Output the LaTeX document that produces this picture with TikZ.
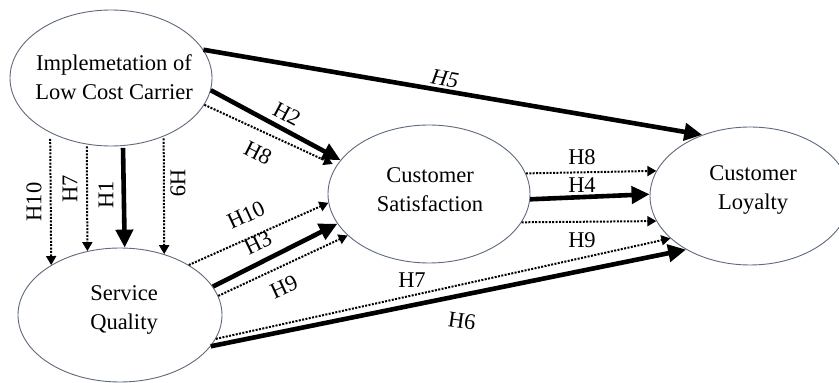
\documentclass[tikz,border=0pt]{standalone}
\usepackage{fontspec}
\setmainfont{Liberation Serif}
\usetikzlibrary{shapes.geometric, arrows.meta}
\definecolor{ellc}{RGB}{95,105,125}
\begin{document}
\begin{tikzpicture}[x=1pt,y=1pt,
  ell/.style={ellipse, draw=ellc, line width=0.9pt, inner sep=0pt},
  txt/.style={font=\fontsize{22.5}{29.5}\selectfont, align=center, inner sep=0pt},
  lab/.style={font=\fontsize{22.5}{25}\selectfont, inner sep=0pt},
  bigarrow/.style={-{Triangle[length=18pt,width=17pt]}, line width=4.6pt},
  dotarrow/.style={-{Triangle[length=9pt,width=10pt]}, line width=2pt, dash pattern=on 2pt off 1.4pt}
]
\fill[white] (0,0) rectangle (839,383);
\useasboundingbox (0,0) rectangle (839,383);

% ellipses
\node[ell, minimum width=202pt, minimum height=136pt] (lcc) at (111,305) {};
\node[ell, minimum width=204pt, minimum height=134pt] (sq) at (120,68) {};
\node[ell, minimum width=202pt, minimum height=138pt] (cs) at (429,189) {};
\node[ell, minimum width=200pt, minimum height=138pt] (cl) at (750,187) {};

% texts
\node[txt] (lccT) at (114,306) {Implemetation of\\Low Cost Carrier};
\node[txt] (sqT) at (124,73) {Service\\Quality};
\node[txt] (csT) at (430,193.5) {Customer\\Satisfaction};
\node[txt] (clT) at (753,193) {Customer\\Loyalty};

% LCC outgoing
\draw[bigarrow] (lcc.17.9) -- (cl.128.5);
\draw[bigarrow] (lcc.353.2) -- (cs.159.6);
\draw[dotarrow, shorten >=4pt] (lcc.344.9) -- (cs.163.7);

% vertical
\draw[dotarrow, shorten <=6pt] (lcc.222.4) -- (sq.144.4);
\draw[dotarrow, shorten <=2pt] (lcc.250.0) -- (sq.117.5);
\draw[bigarrow, shorten <=2pt] (lcc.280.9) -- (sq.86.6);
\draw[dotarrow, shorten <=2pt] (lcc.312.5) -- (sq.54.0);

% SQ to CS
\draw[dotarrow] (sq.36.6) -- (cs.185);
\draw[bigarrow] (sq.17.5) -- (cs.198);
\draw[dotarrow] (sq.11.1) -- (cs.207.6);

% SQ to CL
\draw[dotarrow] (sq.346) -- (cl.208.8);
\draw[bigarrow] (sq.341.7) -- (cl.220.9);

% CS to CL
\draw[dotarrow] (cs.12.5) -- (cl.165.5);
\draw[bigarrow] (cs.357.1) -- (cl.179.4);
\draw[dotarrow] (cs.343.4) -- (cl.195);

% labels
\node[lab, font=\fontsize{22.5}{25}\selectfont\itshape, rotate=-10] (h5) at (445,304) {H5};
\node[lab, rotate=-28] (h2) at (287,269) {H2};
\node[lab, rotate=-27] (h8a) at (258,230) {H8};
\node[lab, rotate=90] (h10v) at (34,181) {H10};
\node[lab, rotate=90] (h7v) at (70,194) {H7};
\node[lab, rotate=90] (h1v) at (106,188) {H1};
\node[lab, rotate=-90] (h9v) at (178,200) {H9};
\node[lab, rotate=25] (h10d) at (246,168) {H10};
\node[lab, rotate=26] (h3d) at (258,140) {H3};
\node[lab, rotate=25] (h9d) at (284,96) {H9};
\node[lab] (h7d) at (412,103) {H7};
\node[lab, rotate=-8] (h6d) at (462,62) {H6};
\node[lab] (h8r) at (582,226) {H8};
\node[lab] (h4r) at (582,198) {H4};
\node[lab] (h9r) at (582,143) {H9};
\end{tikzpicture}
\end{document}
